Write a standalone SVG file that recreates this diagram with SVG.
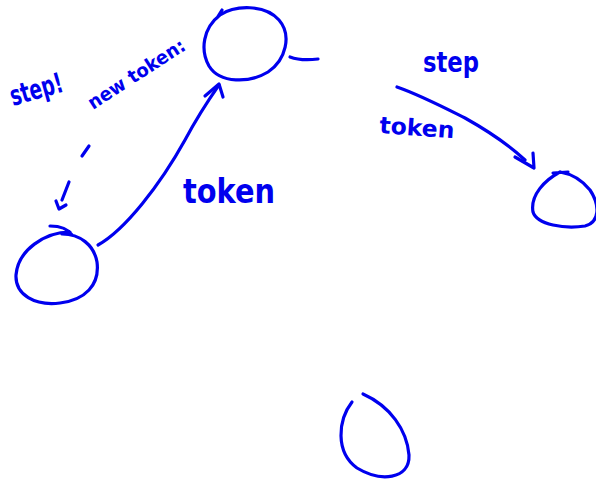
<svg xmlns="http://www.w3.org/2000/svg" width="596" height="482" viewBox="0 0 596 482">
  <style>
    .ink { fill: none; stroke: #0000ee; stroke-width: 3.2; stroke-linecap: round; stroke-linejoin: round; }
    .hand { fill: #0000ee; font-family: "DejaVu Sans", "Liberation Sans", sans-serif; font-weight: bold; }
  </style>
  <rect width="596" height="482" fill="#ffffff"/>

  <!-- states -->
  <g id="node-top">
    <path class="ink" d="M222,10 L217,18 M220,15 C235,5 265,4 279,20 C292,35 286,60 268,72 C250,83 220,84 209,66 C200,50 203,28 220,15"/>
  </g>
  <g id="node-left">
    <path class="ink" d="M50,226 C60,226 68,229 72,235 M70,232 C45,232 18,250 16,275 C15,295 35,306 60,303 C85,300 100,285 97,262 C94,245 80,234 62,234"/>
  </g>
  <g id="node-right">
    <path class="ink" d="M553,173 L568,172 M560,172 C545,180 530,195 533,212 C537,225 565,229 585,226 C600,222 600,205 590,190 C582,180 572,174 560,172"/>
  </g>
  <g id="node-bottom">
    <path class="ink" d="M352,402 C338,420 335,452 357,468 C380,482 410,480 409,455 C407,430 390,406 363,394"/>
  </g>

  <!-- transitions -->
  <g id="connectors">
    <path class="ink" d="M98,245 C125,230 160,185 185,140 C200,112 212,95 219,85"/>
    <path class="ink" d="M205,96 L219,84 L223,97"/>
    <path class="ink" d="M82,156 L89,146"/>
    <path class="ink" d="M69,182 L62,200"/>
    <path class="ink" d="M56,201 L59,209 L66,205"/>
    <path class="ink" d="M290,57 C298,60 310,60 318,59"/>
    <path class="ink" d="M397,87 C420,95 445,108 465,118 C490,132 510,146 525,160"/>
    <path class="ink" d="M515,157 L534,168 L533,153"/>
  </g>

  <!-- labels -->
  <g id="labels">
    <text class="hand" x="13" y="106" font-size="28" transform="rotate(-16 13 106)" textLength="54" lengthAdjust="spacingAndGlyphs">step!</text>
    <text class="hand" x="93" y="110" font-size="19" transform="rotate(-33 93 110)" textLength="112" lengthAdjust="spacingAndGlyphs">new token:</text>
    <text class="hand" x="183" y="203" font-size="34" textLength="92" lengthAdjust="spacingAndGlyphs">token</text>
    <text class="hand" x="423" y="72" font-size="28" textLength="56" lengthAdjust="spacingAndGlyphs">step</text>
    <text class="hand" x="379" y="133" font-size="23" transform="rotate(4 379 133)" textLength="75" lengthAdjust="spacingAndGlyphs">token</text>
  </g>
</svg>
